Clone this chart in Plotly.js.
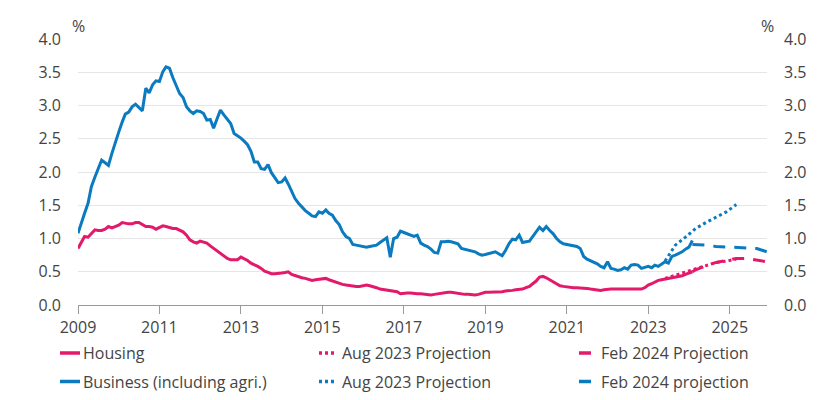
<!DOCTYPE html>
<html>
<head>
<meta charset="utf-8">
<script src="https://cdn.plot.ly/plotly-3.0.1.min.js"></script>
<style>html,body{margin:0;padding:0;background:#fff;}#chart{width:830px;height:400px;}</style>
</head>
<body>
<div id="chart"></div>
<script>
// ---- Data (monthly, starting Jan 2009) ----
const startYear = 2009;
const housing = [
0.85,0.95,1.03,1.02,1.08,1.13,1.12,1.12,1.14,1.18,1.16,1.18,
1.20,1.24,1.23,1.22,1.22,1.24,1.24,1.21,1.18,1.18,1.17,1.14,
1.17,1.19,1.18,1.16,1.15,1.15,1.13,1.10,1.05,0.98,0.95,0.93,
0.96,0.95,0.93,0.89,0.85,0.81,0.77,0.73,0.70,0.68,0.68,0.68,
0.72,0.70,0.67,0.63,0.61,0.58,0.55,0.51,0.49,0.47,0.47,0.47,
0.48,0.49,0.50,0.46,0.44,0.43,0.41,0.40,0.39,0.37,0.38,0.39,
0.39,0.40,0.38,0.36,0.35,0.33,0.31,0.30,0.29,0.28,0.28,0.28,
0.29,0.30,0.29,0.28,0.26,0.24,0.23,0.22,0.21,0.20,0.20,0.17,
0.18,0.18,0.18,0.17,0.17,0.17,0.16,0.16,0.15,0.16,0.17,0.18,
0.19,0.19,0.19,0.18,0.18,0.17,0.16,0.16,0.15,0.15,0.16,0.18,
0.19,0.19,0.19,0.20,0.20,0.20,0.21,0.21,0.22,0.23,0.23,0.24,
0.26,0.28,0.32,0.36,0.42,0.43,0.41,0.38,0.34,0.31,0.29,0.28,
0.27,0.27,0.26,0.26,0.26,0.25,0.25,0.24,0.23,0.23,0.22,0.23,
0.24,0.24,0.24,0.24,0.24,0.23,0.23,0.23,0.23,0.23,0.24,0.26,
0.30,0.32,0.35,0.37,0.38,0.39,0.39,0.40,0.41,0.43,0.44,0.46,
0.48,0.50
];
const business = [
1.08,1.25,1.38,1.53,1.78,1.92,2.05,2.18,2.14,2.10,2.28,2.45,
2.60,2.75,2.87,2.90,2.98,3.02,2.97,2.92,3.26,3.19,3.31,3.37,
3.36,3.51,3.58,3.56,3.42,3.30,3.18,3.12,2.98,2.92,2.88,2.92,
2.91,2.88,2.78,2.79,2.66,2.80,2.93,2.86,2.80,2.73,2.58,2.55,
2.51,2.46,2.41,2.31,2.15,2.15,2.05,2.04,2.11,1.99,1.92,1.84,
1.85,1.91,1.82,1.72,1.60,1.53,1.47,1.42,1.38,1.34,1.33,1.40,
1.38,1.43,1.38,1.35,1.27,1.21,1.10,1.03,1.00,0.91,0.90,0.89,
0.88,0.87,0.88,0.89,0.90,0.94,0.98,1.01,0.72,1.00,1.02,1.11,
1.09,1.07,1.04,1.03,1.05,0.93,0.90,0.88,0.84,0.79,0.78,0.95,
0.95,0.96,0.95,0.93,0.92,0.85,0.84,0.83,0.81,0.80,0.77,0.75,
0.76,0.77,0.78,0.80,0.77,0.74,0.82,0.92,0.99,0.98,1.05,0.94,
0.95,0.96,1.03,1.10,1.17,1.12,1.18,1.12,1.07,1.00,0.95,0.92,
0.91,0.90,0.89,0.88,0.85,0.73,0.69,0.67,0.65,0.62,0.58,0.56,
0.65,0.55,0.54,0.52,0.53,0.56,0.54,0.60,0.61,0.60,0.55,0.57,
0.58,0.56,0.60,0.58,0.62,0.65,0.63,0.73,0.75,0.77,0.80,0.84,
0.87,0.97
];
const housingAug23Dates = ["2023-06-01","2023-09-01","2023-12-01","2024-03-01","2024-06-01","2024-09-01","2024-12-01","2025-03-01"];
const housingAug23 = [0.40,0.45,0.49,0.55,0.60,0.64,0.66,0.69];
const businessAug23Dates = ["2023-06-01","2023-09-01","2023-12-01","2024-03-01","2024-06-01","2024-09-01","2024-12-01","2025-03-01"];
const businessAug23 = [0.66,0.90,1.02,1.15,1.24,1.32,1.40,1.51];
const housingFeb24Dates = ["2024-02-01","2024-03-01","2024-06-01","2024-09-01","2024-12-01","2025-03-01","2025-06-01","2025-09-01","2025-12-01"];
const housingFeb24 = [0.50,0.53,0.59,0.64,0.67,0.70,0.70,0.68,0.65];
const businessFeb24Dates = ["2024-02-01","2024-03-01","2024-06-01","2024-09-01","2024-12-01","2025-03-01","2025-06-01","2025-09-01","2025-12-01"];
const businessFeb24 = [0.91,0.91,0.90,0.88,0.87,0.86,0.86,0.85,0.80];
const tickYears = ["2009","2011","2013","2015","2017","2019","2021","2023","2025"];
const legendLabels = ["Housing","Aug 2023 Projection","Feb 2024 Projection","Business (including agri.)","Aug 2023 Projection","Feb 2024 projection"];

// ---- Styling ----
const PINK = "#e3196b";
const BLUE = "#0b7bc0";
const FONT = "Open Sans, sans-serif";
const TXT = "#444444";

function monthDates(n){
  const out=[];
  for(let i=0;i<n;i++){
    const y=startYear+Math.floor(i/12), m=(i%12)+1;
    out.push(y+"-"+(m<10?"0"+m:m)+"-01");
  }
  return out;
}
const hDates = monthDates(housing.length);
const bDates = monthDates(business.length);

const traces = [
  {x:hDates,y:housing,mode:"lines",line:{color:PINK,width:3},name:legendLabels[0]},
  {x:bDates,y:business,mode:"lines",line:{color:BLUE,width:3},name:legendLabels[3]},
  {x:housingAug23Dates,y:housingAug23,mode:"lines",line:{color:PINK,width:3,dash:"3px,3px"},name:legendLabels[1]},
  {x:businessAug23Dates,y:businessAug23,mode:"lines",line:{color:BLUE,width:3,dash:"3px,3px"},name:legendLabels[4]},
  {x:housingFeb24Dates,y:housingFeb24,mode:"lines",line:{color:PINK,width:3,dash:"12px,9px"},name:legendLabels[2]},
  {x:businessFeb24Dates,y:businessFeb24,mode:"lines",line:{color:BLUE,width:3,dash:"12px,9px"},name:legendLabels[5],yaxis:"y2"}
];

// legend built from paper-space shapes + annotations
const W=689, H=266, L=78, T=305;
const px = v => (v-L)/W;
const py = v => (T-v)/H;
const rows=[353,381.5];
const cols=[{k0:60,k1:80,t:81},{k0:319,k1:335,t:340},{k0:579,k1:591,t:599}];
const keyStyle=[
  [{c:PINK,d:"solid"},{c:PINK,d:"dot"},{c:PINK,d:"solid"}],
  [{c:BLUE,d:"solid"},{c:BLUE,d:"dot"},{c:BLUE,d:"solid"}]
];
const shapes=[], annotations=[];
for(let r=0;r<2;r++){
  for(let c=0;c<3;c++){
    const s=keyStyle[r][c];
    shapes.push({type:"line",xref:"paper",yref:"paper",x0:px(cols[c].k0),x1:px(cols[c].k1),y0:py(rows[r]),y1:py(rows[r]),
      line:{color:s.c,width:3.5,dash:s.d==="dot"?"3px,3px":"solid"}});
    annotations.push({xref:"paper",yref:"paper",x:px(cols[c].t),y:py(rows[r]),xanchor:"left",yanchor:"middle",
      text:legendLabels[r*3+c],showarrow:false,font:{family:FONT,size:16,color:TXT}});
  }
}
annotations.push({xref:"paper",yref:"paper",x:0,y:py(26),xanchor:"center",yanchor:"middle",text:"%",showarrow:false,font:{family:FONT,size:16,color:TXT}});
annotations.push({xref:"paper",yref:"paper",x:1,y:py(26),xanchor:"center",yanchor:"middle",text:"%",showarrow:false,font:{family:FONT,size:16,color:TXT}});

const layout = {
  width:830,height:400,
  margin:{l:78,r:63,t:39,b:95},
  paper_bgcolor:"#fff",plot_bgcolor:"#fff",
  showlegend:false,
  font:{family:FONT,size:16,color:TXT},
  xaxis:{type:"date",range:["2009-01-01","2025-12-01"],
    tickvals:tickYears.map(y=>y+"-01-01"),ticktext:tickYears,
    showgrid:false,showline:true,linecolor:"#9a9a9a",linewidth:1,
    ticks:"outside",ticklen:8,tickcolor:"#9a9a9a",tickwidth:1,
    zeroline:false,tickfont:{family:FONT,size:16,color:TXT}},
  yaxis:{range:[0,4],dtick:0.5,tickformat:".1f",showgrid:true,gridcolor:"#e6e6e6",gridwidth:1,
    zeroline:false,showline:false,ticks:"",ticklabelstandoff:16,tickfont:{family:FONT,size:16,color:TXT}},
  yaxis2:{range:[0,4],dtick:0.5,tickformat:".1f",overlaying:"y",side:"right",showgrid:false,
    zeroline:false,showline:false,ticks:"",ticklabelstandoff:16,tickfont:{family:FONT,size:16,color:TXT}},
  shapes:shapes,
  annotations:annotations
};
Plotly.newPlot("chart",traces,layout,{staticPlot:true,displayModeBar:false});
</script>
</body>
</html>
